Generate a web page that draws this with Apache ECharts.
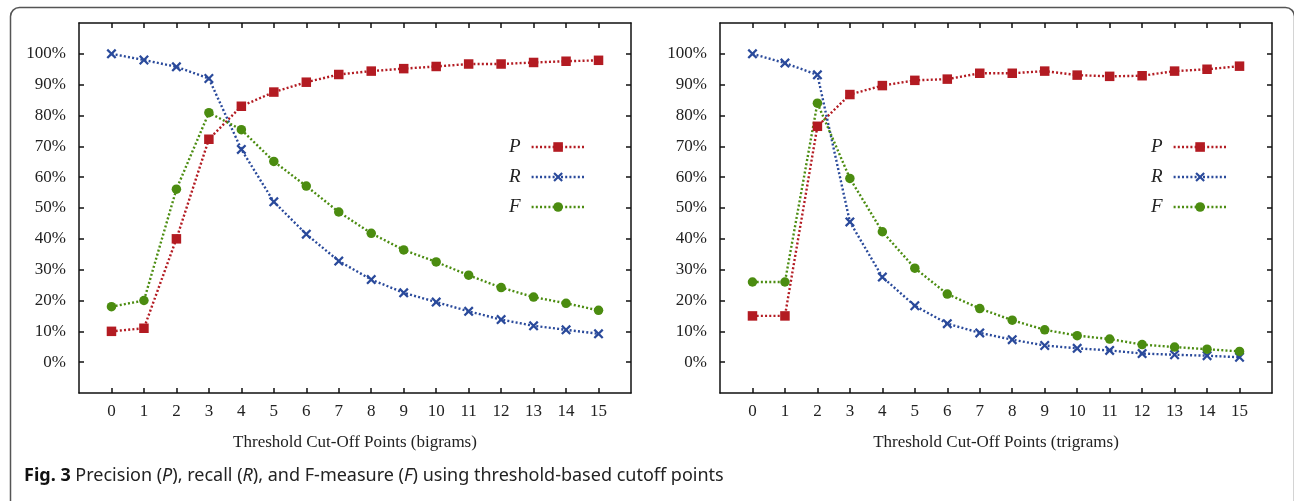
<!DOCTYPE html>
<html>
<head>
<meta charset="utf-8">
<script src="https://cdn.jsdelivr.net/npm/echarts@6/dist/echarts.min.js"></script>
<style>
html,body{margin:0;padding:0;background:#fff;}
#chart{width:1294px;height:501px;}
</style>
</head>
<body>
<div id="chart"></div>
<script>
// ---- data ----
const thresholds = [0,1,2,3,4,5,6,7,8,9,10,11,12,13,14,15];
const yTicks = [0,10,20,30,40,50,60,70,80,90,100];
const seriesNames = ['P','R','F'];
// bigrams
const bigramP = [10, 11, 40, 72.3, 83.0, 87.6, 90.8, 93.3, 94.4, 95.2, 95.9, 96.7, 96.7, 97.2, 97.6, 97.9];
const bigramR = [100, 98, 95.8, 92.0, 69.0, 52.0, 41.5, 32.8, 26.8, 22.5, 19.5, 16.5, 13.8, 11.8, 10.5, 9.2];
const bigramF = [18, 20, 56.1, 80.9, 75.4, 65.1, 57.1, 48.7, 41.8, 36.4, 32.5, 28.2, 24.2, 21.1, 19.1, 16.8];
// trigrams
const trigramP = [15, 15, 76.5, 86.8, 89.7, 91.4, 91.8, 93.7, 93.7, 94.4, 93.1, 92.7, 92.9, 94.4, 95.0, 96.0];
const trigramR = [100, 97.0, 93.2, 45.5, 27.6, 18.3, 12.5, 9.5, 7.3, 5.4, 4.5, 3.8, 2.8, 2.4, 2.1, 1.6];
const trigramF = [26, 26, 84.0, 59.6, 42.3, 30.5, 22.1, 17.4, 13.6, 10.5, 8.6, 7.5, 5.7, 4.9, 4.2, 3.5];
const xNames = ['Threshold Cut-Off Points (bigrams)', 'Threshold Cut-Off Points (trigrams)'];
const caption = 'Precision (P), recall (R), and F-measure (F) using threshold-based cutoff points';

// ---- styles ----
const colors = {P:'#b31b22', R:'#2a4a9b', F:'#4b8c10'};
const symbols = {
  P:'rect',
  R:'path://M0,1.6 L1.6,0 L5,3.4 L8.4,0 L10,1.6 L6.6,5 L10,8.4 L8.4,10 L5,6.6 L1.6,10 L0,8.4 L3.4,5 Z',
  F:'circle'
};
const symbolSizes = {P:9.5, R:10, F:9.5};
const serif = "'Liberation Serif', 'Times New Roman', serif";
const axisLineStyle = {color:'#111', width:1.5};
const labelStyle = {fontFamily:serif, fontSize:17, color:'#222'};

const chart = echarts.init(document.getElementById('chart'), null, {renderer:'canvas'});

const grids = [
  {left:79, top:23, width:552, height:370},
  {left:720, top:23, width:552, height:370}
];

const xAxes = [], yAxes = [];
grids.forEach((g, gi) => {
  xAxes.push({
    type:'value', gridIndex:gi, min:-1, max:16, interval:1, position:'bottom',
    name:xNames[gi], nameLocation:'middle', nameGap:41,
    nameTextStyle:{fontFamily:serif, fontSize:17, color:'#222'},
    axisLine:{show:true, onZero:false, lineStyle:axisLineStyle},
    axisTick:{show:true, inside:true, length:5, customValues:thresholds, lineStyle:axisLineStyle},
    axisLabel:Object.assign({show:true, margin:10, customValues:thresholds}, labelStyle),
    splitLine:{show:false}
  });
  xAxes.push({
    type:'value', gridIndex:gi, min:-1, max:16, interval:1, position:'top',
    axisLine:{show:true, onZero:false, lineStyle:axisLineStyle},
    axisTick:{show:true, inside:true, length:5, customValues:thresholds, lineStyle:axisLineStyle},
    axisLabel:{show:false},
    splitLine:{show:false}
  });
  yAxes.push({
    type:'value', gridIndex:gi, min:-10, max:110, interval:10, position:'left',
    axisLine:{show:true, onZero:false, lineStyle:axisLineStyle},
    axisTick:{show:true, inside:true, length:5, customValues:yTicks, lineStyle:axisLineStyle},
    axisLabel:Object.assign({show:true, margin:13, customValues:yTicks, formatter:'{value}%'}, labelStyle),
    splitLine:{show:false}
  });
  yAxes.push({
    type:'value', gridIndex:gi, min:-10, max:110, interval:10, position:'right',
    axisLine:{show:true, onZero:false, lineStyle:axisLineStyle},
    axisTick:{show:true, inside:true, length:5, customValues:yTicks, lineStyle:axisLineStyle},
    axisLabel:{show:false},
    splitLine:{show:false}
  });
});

const dataSets = [
  {P:bigramP, R:bigramR, F:bigramF},
  {P:trigramP, R:trigramR, F:trigramF}
];
const series = [];
dataSets.forEach((ds, gi) => {
  seriesNames.forEach(n => {
    series.push({
      type:'line', name:n, xAxisIndex:gi*2, yAxisIndex:gi*2,
      data:thresholds.map((t, i) => [t, ds[n][i]]),
      symbol:symbols[n], symbolSize:symbolSizes[n], showSymbol:true,
      color:colors[n],
      itemStyle:{color:colors[n]},
      lineStyle:{color:colors[n], width:2.4, type:[2,2.2]},
      animation:false, silent:true
    });
  });
});

const legendBase = {
  orient:'vertical', align:'right', data:seriesNames,
  itemWidth:53, itemHeight:12, itemGap:10, selectedMode:false,
  lineStyle:{width:2.4, type:[2,2.2]},
  textStyle:{fontFamily:serif, fontStyle:'italic', fontSize:19, color:'#222', lineHeight:20, padding:[0,6,0,0]}
};

chart.setOption({
  animation:false,
  grid:grids,
  xAxis:xAxes,
  yAxis:yAxes,
  series:series,
  legend:[
    Object.assign({}, legendBase, {left:504, top:132}),
    Object.assign({}, legendBase, {left:1146, top:132})
  ],
  graphic:[
    {type:'rect', left:8, top:5, shape:{width:1284, height:560, r:9}, style:{fill:'none', stroke:'#555', lineWidth:1.5}, silent:true},
    {type:'text', left:24, top:467, silent:true, style:{
      text:'{b|Fig. 3} ' + caption.replace(/\((P|R|F)\)/g, '({i|$1})'),
      font:'18px "Noto Sans", sans-serif', fill:'#222',
      rich:{
        b:{fontWeight:'bold', fontFamily:'Noto Sans', fontSize:18, fill:'#111'},
        i:{fontStyle:'italic', fontFamily:'Noto Sans', fontSize:18, fill:'#222'}
      }
    }}
  ]
});
</script>
</body>
</html>
